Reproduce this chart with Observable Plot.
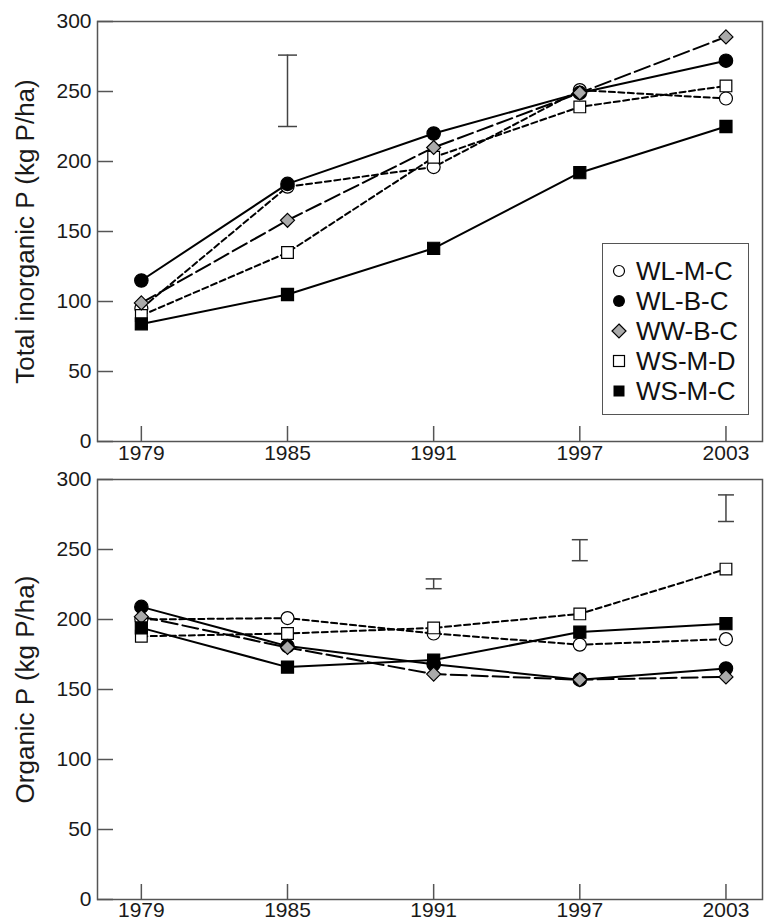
<!DOCTYPE html>
<html><head><meta charset="utf-8">
<script src="https://cdn.jsdelivr.net/npm/d3@7"></script>
<script src="https://cdn.jsdelivr.net/npm/@observablehq/plot@0.6"></script>
<style>
body{margin:0;background:#fff;font-family:"Liberation Sans",Arial,Helvetica,sans-serif;}
#chart{position:relative;width:770px;height:923px;overflow:hidden;}
#chart svg{display:block;}
.legend{position:absolute;left:602px;top:243px;width:147px;height:172px;box-sizing:border-box;border:1.5px solid #555;background:#fff;padding-top:12px;padding-left:4px;}
.legend .row{display:flex;align-items:center;height:30px;font-size:26px;color:#111;line-height:30px;}
.legend .row svg{flex:none;margin-right:5px;}
</style>
</head><body>
<div id="chart"></div>
<script>
// ---- data ----
const years = [1979, 1985, 1991, 1997, 2003];
const seriesNames = ["WL-M-C", "WL-B-C", "WW-B-C", "WS-M-D", "WS-M-C"];
const yTicks = [0, 50, 100, 150, 200, 250, 300];

// Total inorganic P (kg P/ha)
const inorgWLMC = [95, 182, 196, 251, 245];
const inorgWLBC = [115, 184, 220, 249, 272];
const inorgWWBC = [99, 158, 210, 249, 289];
const inorgWSMD = [90, 135, 203, 239, 254];
const inorgWSMC = [84, 105, 138, 192, 225];

// Organic P (kg P/ha)
const orgWLMC = [200, 201, 190, 182, 186];
const orgWLBC = [209, 181, 168, 157, 165];
const orgWWBC = [202, 180, 161, 157, 159];
const orgWSMD = [188, 190, 194, 204, 236];
const orgWSMC = [194, 166, 171, 191, 197];

// error bars
const errInorgYear = [1985], errInorgLow = [225], errInorgHigh = [276];
const errOrgYear = [1991, 1997, 2003], errOrgLow = [222, 242, 270], errOrgHigh = [229, 257, 289];

// ---- styling ----
const styles = {
  "WL-M-C": {symbol: "circle", fill: "white", dash: "6,3.5", r: 6.5},
  "WL-B-C": {symbol: "circle", fill: "black", dash: null, r: 6.7},
  "WW-B-C": {symbol: "diamond2", fill: "#aaa", dash: "16,5", r: 6.3},
  "WS-M-D": {symbol: "square", fill: "white", dash: "6,3.5", r: 6.6},
  "WS-M-C": {symbol: "square", fill: "black", dash: null, r: 6.8}
};
const drawOrder = ["WL-M-C", "WS-M-D", "WL-B-C", "WW-B-C", "WS-M-C"];

function table(arrs) {
  const rows = [];
  seriesNames.forEach((s, j) => years.forEach((y, i) => rows.push({series: s, year: y, value: arrs[j][i]})));
  return rows;
}
const inorgRows = table([inorgWLMC, inorgWLBC, inorgWWBC, inorgWSMD, inorgWSMC]);
const orgRows = table([orgWLMC, orgWLBC, orgWWBC, orgWSMD, orgWSMC]);
const errInorg = errInorgYear.map((y, i) => ({year: y, lo: errInorgLow[i], hi: errInorgHigh[i]}));
const errOrg = errOrgYear.map((y, i) => ({year: y, lo: errOrgLow[i], hi: errOrgHigh[i]}));

const capSymbol = {draw(ctx, size) { const w = Math.sqrt(size / Math.PI); ctx.moveTo(-w, 0); ctx.lineTo(w, 0); }};
const FONT = '"Liberation Sans", Arial, Helvetica, sans-serif';
const W = 770, ML = 97, MR = 8;

function panel(rows, err, o) {
  const innerH = o.height - o.mt - o.mb;
  const innerW = W - ML - MR;
  const lines = drawOrder.map(s => Plot.line(rows.filter(d => d.series === s), {
    x: "year", y: "value", stroke: "black", strokeWidth: 2, strokeDasharray: styles[s].dash
  }));
  const dots = drawOrder.map(s => Plot.dot(rows.filter(d => d.series === s), {
    x: "year", y: "value", symbol: styles[s].symbol, r: styles[s].r,
    fill: styles[s].fill, stroke: "black", strokeWidth: 1.2
  }));
  return Plot.plot({
    width: W, height: o.height,
    marginTop: o.mt, marginBottom: o.mb, marginLeft: ML, marginRight: MR,
    style: {fontFamily: FONT, color: "#1a1a1a", background: "white", overflow: "visible"},
    x: {domain: [1977.2, 2004.5]},
    y: {domain: [0, 300]},
    marks: [
      Plot.frame({stroke: "#555", strokeWidth: 1.5}),
      // inward ticks
      Plot.tickX(years, {x: d => d, stroke: "#555", strokeWidth: 1.5, insetTop: innerH - 15}),
      Plot.tickY(yTicks, {y: d => d, stroke: "#555", strokeWidth: 1.5, insetRight: innerW - 16}),
      Plot.axisX(years, {tickSize: 0, tickPadding: o.xPad, tickFormat: d => String(d), fontSize: 21, label: null}),
      Plot.axisY(yTicks, {tickSize: 0, tickPadding: 6, fontSize: 21, label: null}),
      Plot.axisY([], {tickSize: 0, label: o.label, labelAnchor: "center", labelArrow: "none", labelOffset: 82, fontSize: 26}),
      Plot.ruleX(err, {x: "year", y1: "lo", y2: "hi", stroke: "#444", strokeWidth: 1.5}),
      Plot.dot(err, {x: "year", y: "lo", symbol: capSymbol, r: o.cap, fill: "none", stroke: "#444", strokeWidth: 1.5}),
      Plot.dot(err, {x: "year", y: "hi", symbol: capSymbol, r: o.cap, fill: "none", stroke: "#444", strokeWidth: 1.5}),
      ...lines,
      ...dots
    ]
  });
}

const chart = document.getElementById("chart");
chart.append(panel(inorgRows, errInorg, {height: 462, mt: 21, mb: 21, xPad: 4, cap: 9.5, label: "Total inorganic P (kg P/ha)"}));
chart.append(panel(orgRows, errOrg, {height: 461, mt: 17, mb: 24, xPad: 3, cap: 8, label: "Organic P (kg P/ha)"}));

// legend
const legend = document.createElement("div");
legend.className = "legend";
const legendSym = {
  "WL-M-C": '<circle cx="12" cy="12" r="5.5" fill="white" stroke="black" stroke-width="1.2"/>',
  "WL-B-C": '<circle cx="12" cy="12" r="6" fill="black"/>',
  "WW-B-C": '<path d="M12,5 L19,12 L12,19 L5,12 Z" fill="#aaa" stroke="black" stroke-width="1.2"/>',
  "WS-M-D": '<rect x="6.5" y="6.5" width="11" height="11" fill="white" stroke="black" stroke-width="1.2"/>',
  "WS-M-C": '<rect x="6.5" y="6.5" width="11" height="11" fill="black"/>'
};
seriesNames.forEach(s => {
  const row = document.createElement("div");
  row.className = "row";
  row.innerHTML = `<svg width="24" height="24" viewBox="0 0 24 24">${legendSym[s]}</svg><span>${s}</span>`;
  legend.append(row);
});
chart.append(legend);
</script>
</body></html>
